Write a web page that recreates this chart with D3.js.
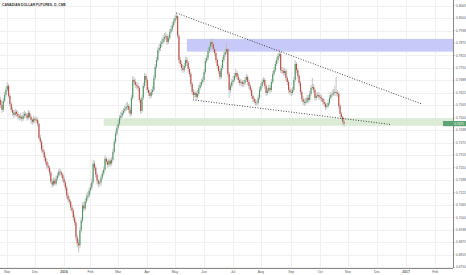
<!DOCTYPE html>
<html>
<head>
<meta charset="utf-8">
<script src="https://d3js.org/d3.v7.min.js"></script>
<style>
  html, body { margin: 0; padding: 0; background: #fff; }
  svg { display: block; font-family: "Liberation Sans", Arial, sans-serif; }
</style>
</head>
<body>
<svg id="chart"></svg>
<script>
// ---- data ----
const title = "CANADIAN DOLLAR FUTURES, D, CME";
const firstDate = "2015-10-26";
const holidays = ["2015-12-25", "2016-01-01", "2016-03-25"];
const firstOpen = 0.7590;

const closes = [
  0.7565,0.7540,0.7585,0.7615,0.7640,0.7660,0.7610,0.7570,0.7540,0.7525,
  0.7515,0.7530,0.7520,0.7510,0.7500,0.7505,0.7495,0.7510,0.7520,0.7515,
  0.7500,0.7525,0.7505,0.7490,0.7480,0.7495,0.7488,0.7490,0.7470,0.7400,
  0.7380,0.7340,0.7330,0.7300,0.7280,0.7260,0.7250,0.7225,0.7180,0.7165,
  0.7185,0.7170,0.7195,0.7210,0.7230,0.7225,0.7215,0.7195,0.7175,0.7150,
  0.7110,0.7090,0.7080,0.7050,0.7035,0.7000,0.6975,0.6900,0.6870,0.6860,
  0.6935,0.6985,0.7060,0.7045,0.7080,0.7100,0.7110,0.7135,0.7150,0.7175,
  0.7270,0.7250,0.7215,0.7185,0.7170,0.7175,0.7200,0.7220,0.7240,0.7295,
  0.7280,0.7265,0.7285,0.7270,0.7290,0.7330,0.7380,0.7420,0.7450,0.7470,
  0.7500,0.7510,0.7525,0.7535,0.7545,0.7555,0.7560,0.7540,0.7520,0.7600,
  0.7690,0.7680,0.7665,0.7660,0.7650,0.7590,0.7535,0.7600,0.7660,0.7710,
  0.7690,0.7640,0.7625,0.7610,0.7630,0.7640,0.7700,0.7755,0.7790,0.7840,
  0.7850,0.7870,0.7880,0.7895,0.7905,0.7910,0.7880,0.7900,0.7930,0.7945,
  0.7965,0.7985,0.8000,0.8010,0.7910,0.7790,0.7770,0.7750,0.7740,0.7760,
  0.7790,0.7775,0.7745,0.7720,0.7670,0.7630,0.7615,0.7625,0.7605,0.7620,
  0.7650,0.7665,0.7680,0.7690,0.7730,0.7785,0.7800,0.7835,0.7855,0.7880,
  0.7870,0.7845,0.7825,0.7790,0.7760,0.7735,0.7705,0.7750,0.7790,0.7815,
  0.7830,0.7845,0.7720,0.7640,0.7660,0.7680,0.7690,0.7710,0.7725,0.7705,
  0.7690,0.7675,0.7680,0.7670,0.7675,0.7690,0.7705,0.7680,0.7660,0.7640,
  0.7610,0.7595,0.7580,0.7575,0.7575,0.7600,0.7640,0.7660,0.7680,0.7690,
  0.7660,0.7625,0.7635,0.7650,0.7640,0.7680,0.7720,0.7740,0.7770,0.7790,
  0.7810,0.7820,0.7740,0.7735,0.7725,0.7735,0.7700,0.7680,0.7640,0.7630,
  0.7625,0.7640,0.7690,0.7770,0.7740,0.7710,0.7675,0.7630,0.7595,0.7580,
  0.7575,0.7580,0.7600,0.7590,0.7620,0.7650,0.7655,0.7640,0.7600,0.7610,
  0.7615,0.7605,0.7600,0.7595,0.7580,0.7570,0.7555,0.7560,0.7575,0.7600,
  0.7615,0.7620,0.7625,0.7630,0.7625,0.7620,0.7560,0.7520,0.7505,0.7480,
  0.7471
];
const highs = [
  0.7605,0.7580,0.7600,0.7630,0.7655,0.7680,0.7670,0.7620,0.7580,0.7555,
  0.7540,0.7545,0.7540,0.7535,0.7520,0.7525,0.7515,0.7530,0.7535,0.7530,
  0.7525,0.7540,0.7535,0.7515,0.7500,0.7510,0.7505,0.7505,0.7500,0.7475,
  0.7415,0.7390,0.7360,0.7340,0.7315,0.7295,0.7275,0.7260,0.7235,0.7195,
  0.7200,0.7200,0.7210,0.7225,0.7245,0.7245,0.7235,0.7225,0.7210,0.7185,
  0.7160,0.7125,0.7105,0.7090,0.7065,0.7045,0.7015,0.6985,0.6915,0.6890,
  0.6950,0.7000,0.7075,0.7080,0.7095,0.7120,0.7130,0.7150,0.7170,0.7195,
  0.7290,0.7285,0.7260,0.7225,0.7195,0.7190,0.7215,0.7235,0.7255,0.7310,
  0.7305,0.7290,0.7300,0.7295,0.7305,0.7345,0.7395,0.7435,0.7465,0.7490,
  0.7515,0.7530,0.7540,0.7550,0.7560,0.7575,0.7580,0.7570,0.7555,0.7615,
  0.7710,0.7705,0.7695,0.7680,0.7675,0.7660,0.7600,0.7615,0.7675,0.7725,
  0.7720,0.7700,0.7655,0.7640,0.7645,0.7660,0.7715,0.7770,0.7805,0.7855,
  0.7870,0.7885,0.7900,0.7915,0.7925,0.7930,0.7920,0.7915,0.7945,0.7960,
  0.7980,0.8000,0.8015,0.8028,0.8015,0.7920,0.7805,0.7785,0.7765,0.7775,
  0.7805,0.7805,0.7785,0.7755,0.7730,0.7680,0.7645,0.7640,0.7635,0.7640,
  0.7665,0.7680,0.7695,0.7705,0.7745,0.7800,0.7815,0.7850,0.7870,0.7895,
  0.7898,0.7880,0.7855,0.7835,0.7800,0.7770,0.7745,0.7765,0.7805,0.7830,
  0.7845,0.7878,0.7850,0.7730,0.7675,0.7695,0.7710,0.7725,0.7745,0.7735,
  0.7720,0.7700,0.7695,0.7690,0.7690,0.7705,0.7720,0.7715,0.7690,0.7670,
  0.7650,0.7620,0.7605,0.7595,0.7590,0.7615,0.7655,0.7675,0.7695,0.7705,
  0.7700,0.7670,0.7650,0.7665,0.7665,0.7695,0.7735,0.7755,0.7785,0.7805,
  0.7825,0.7845,0.7830,0.7755,0.7750,0.7750,0.7745,0.7710,0.7690,0.7655,
  0.7645,0.7655,0.7705,0.7790,0.7780,0.7750,0.7720,0.7685,0.7640,0.7610,
  0.7595,0.7600,0.7615,0.7615,0.7635,0.7665,0.7700,0.7670,0.7650,0.7625,
  0.7630,0.7630,0.7620,0.7615,0.7605,0.7595,0.7580,0.7575,0.7590,0.7615,
  0.7630,0.7640,0.7645,0.7660,0.7705,0.7640,0.7630,0.7570,0.7530,0.7510,
  0.7495
];
const lows = [
  0.7550,0.7525,0.7530,0.7575,0.7605,0.7630,0.7600,0.7555,0.7530,0.7510,
  0.7500,0.7505,0.7505,0.7495,0.7485,0.7490,0.7480,0.7485,0.7500,0.7500,
  0.7485,0.7490,0.7495,0.7470,0.7465,0.7470,0.7475,0.7475,0.7455,0.7390,
  0.7365,0.7325,0.7315,0.7285,0.7265,0.7245,0.7235,0.7210,0.7170,0.7150,
  0.7155,0.7160,0.7160,0.7185,0.7200,0.7210,0.7200,0.7180,0.7160,0.7135,
  0.7095,0.7075,0.7065,0.7035,0.7020,0.6985,0.6960,0.6885,0.6850,0.6825,
  0.6845,0.6925,0.6975,0.7030,0.7035,0.7070,0.7085,0.7100,0.7120,0.7140,
  0.7165,0.7235,0.7200,0.7165,0.7150,0.7155,0.7160,0.7190,0.7210,0.7230,
  0.7265,0.7250,0.7255,0.7255,0.7260,0.7280,0.7320,0.7370,0.7410,0.7440,
  0.7460,0.7490,0.7500,0.7515,0.7525,0.7535,0.7540,0.7525,0.7505,0.7510,
  0.7590,0.7665,0.7650,0.7645,0.7635,0.7575,0.7520,0.7525,0.7590,0.7650,
  0.7675,0.7625,0.7610,0.7595,0.7600,0.7615,0.7630,0.7690,0.7745,0.7780,
  0.7825,0.7835,0.7855,0.7870,0.7880,0.7890,0.7865,0.7870,0.7890,0.7920,
  0.7935,0.7955,0.7975,0.7990,0.7900,0.7775,0.7755,0.7735,0.7725,0.7730,
  0.7750,0.7760,0.7730,0.7705,0.7655,0.7615,0.7595,0.7600,0.7590,0.7595,
  0.7610,0.7640,0.7655,0.7670,0.7680,0.7720,0.7775,0.7790,0.7825,0.7845,
  0.7855,0.7830,0.7810,0.7775,0.7745,0.7720,0.7690,0.7695,0.7740,0.7780,
  0.7805,0.7820,0.7705,0.7600,0.7625,0.7650,0.7670,0.7680,0.7700,0.7690,
  0.7675,0.7660,0.7660,0.7655,0.7655,0.7665,0.7680,0.7665,0.7645,0.7625,
  0.7595,0.7580,0.7570,0.7560,0.7560,0.7565,0.7590,0.7630,0.7650,0.7670,
  0.7645,0.7610,0.7615,0.7625,0.7625,0.7630,0.7670,0.7710,0.7730,0.7760,
  0.7780,0.7800,0.7725,0.7720,0.7710,0.7715,0.7685,0.7665,0.7625,0.7615,
  0.7610,0.7615,0.7630,0.7680,0.7725,0.7695,0.7660,0.7615,0.7580,0.7565,
  0.7560,0.7565,0.7570,0.7575,0.7580,0.7610,0.7640,0.7625,0.7585,0.7590,
  0.7600,0.7590,0.7585,0.7580,0.7565,0.7555,0.7540,0.7545,0.7550,0.7565,
  0.7590,0.7605,0.7610,0.7610,0.7610,0.7605,0.7545,0.7505,0.7490,0.7465,
  0.7455
];

const monthLabels = ["Nov","Dec","2016","Feb","Mar","Apr","May","Jun","Jul","Aug","Sep","Oct","Nov","Dec","2017","Feb"];
const firstMonth = "2015-11-01";
const priceTicks = ["0.6750","0.6813","0.6875","0.6938","0.7000","0.7063","0.7125","0.7188","0.7250","0.7313","0.7375",
                    "0.7438","0.7500","0.7563","0.7625","0.7688","0.7750","0.7813","0.7875","0.7938","0.8000","0.8063"];
const lastPriceLabel = "0.7471";

// drawings: [barIndex, price]
const resistanceZone = { fromBar: 141, top: 0.7896, bottom: 0.7832 };
const supportZone = { fromBar: 78, top: 0.7498, bottom: 0.7460 };
const upperTrend = [[133, 0.8026], [319, 0.7569]];
const lowerTrend = [[145.6, 0.7590], [294.8, 0.7467]];

// ---- layout ----
const width = 466, height = 275;
const plotRight = 453, plotBottom = 268;

const svg = d3.select("#chart").attr("width", width).attr("height", height);

const parse = d3.timeParse("%Y-%m-%d");
const fmt = d3.timeFormat("%Y-%m-%d");
const days = d3.timeDay.range(parse(firstDate), parse("2017-04-01"))
  .filter(d => d.getDay() % 6 !== 0 && !holidays.includes(fmt(d)));

const bars = closes.map((c, i) => ({
  i,
  open: i ? closes[i - 1] : firstOpen,
  close: c,
  high: highs[i],
  low: lows[i]
}));

const x = d3.scaleLinear().domain([-0.5, 342.5]).range([0, plotRight]);
const y = d3.scaleLinear().domain([0.675, 0.80625]).range([267.3, 5.7]);

const months = d3.timeMonth.range(parse(firstMonth), parse("2017-02-02"));
const monthIdx = months.map(m => days.findIndex(d => d >= m));

// grid
const grid = svg.append("g");
grid.selectAll("line.h")
  .data(priceTicks)
  .enter().append("line")
  .attr("x1", 0).attr("x2", plotRight)
  .attr("y1", d => Math.round(y(+d)) + 0.5).attr("y2", d => Math.round(y(+d)) + 0.5)
  .attr("stroke", "#f0f0f0");
grid.selectAll("line.v")
  .data(monthIdx)
  .enter().append("line")
  .attr("x1", d => Math.round(x(d)) + 0.5).attr("x2", d => Math.round(x(d)) + 0.5)
  .attr("y1", 0).attr("y2", plotBottom)
  .attr("stroke", "#f0f0f0");

// zones
[[resistanceZone, "#c7c9f8"], [supportZone, "#dcebd5"]].forEach(([z, col]) => {
  svg.append("rect")
    .attr("x", x(z.fromBar))
    .attr("y", y(z.top))
    .attr("width", plotRight - x(z.fromBar))
    .attr("height", y(z.bottom) - y(z.top))
    .attr("fill", col);
});

// candles
const candles = svg.append("g");
candles.selectAll("line")
  .data(bars)
  .enter().append("line")
  .attr("x1", d => x(d.i)).attr("x2", d => x(d.i))
  .attr("y1", d => y(d.high)).attr("y2", d => y(d.low))
  .attr("stroke", "#bdbdbd")
  .attr("stroke-width", 0.9);
candles.selectAll("rect")
  .data(bars)
  .enter().append("rect")
  .attr("x", d => x(d.i) - 0.55)
  .attr("width", 1.1)
  .attr("y", d => y(Math.max(d.open, d.close)))
  .attr("height", d => Math.max(0.6, Math.abs(y(d.open) - y(d.close))))
  .attr("fill", d => d.close >= d.open ? "#4e9a66" : "#c1493d");

// trend lines
[upperTrend, lowerTrend].forEach(t => {
  svg.append("line")
    .attr("x1", x(t[0][0])).attr("y1", y(t[0][1]))
    .attr("x2", x(t[1][0])).attr("y2", y(t[1][1]))
    .attr("stroke", "#333")
    .attr("stroke-width", 0.9)
    .attr("stroke-dasharray", "1,1.6");
});

// axes
svg.append("line")
  .attr("x1", plotRight + 0.5).attr("x2", plotRight + 0.5)
  .attr("y1", 0).attr("y2", plotBottom)
  .attr("stroke", "#888");
svg.append("line")
  .attr("x1", 0).attr("x2", plotRight)
  .attr("y1", plotBottom + 0.5).attr("y2", plotBottom + 0.5)
  .attr("stroke", "#888");

const yAxis = svg.append("g").attr("font-size", 3.2).attr("fill", "#555");
yAxis.selectAll("line")
  .data(priceTicks)
  .enter().append("line")
  .attr("x1", plotRight).attr("x2", plotRight + 2)
  .attr("y1", d => y(+d)).attr("y2", d => y(+d))
  .attr("stroke", "#888").attr("stroke-width", 0.5);
yAxis.selectAll("text")
  .data(priceTicks)
  .enter().append("text")
  .attr("x", plotRight + 3)
  .attr("y", d => y(+d) + 1.1)
  .text(d => d);

const xAxis = svg.append("g").attr("font-size", 3.4).attr("fill", "#555").attr("text-anchor", "middle");
xAxis.selectAll("text")
  .data(monthLabels)
  .enter().append("text")
  .attr("x", (d, i) => x(monthIdx[i]))
  .attr("y", 273)
  .attr("font-weight", d => /^\d{4}$/.test(d) ? "bold" : null)
  .text(d => d);

// last price label
const lastY = y(closes[closes.length - 1]);
svg.append("rect")
  .attr("x", 443).attr("y", lastY - 2.6)
  .attr("width", width - 443).attr("height", 5.2)
  .attr("fill", "#5fa374");
svg.append("text")
  .attr("x", 459).attr("y", lastY + 1.1)
  .attr("font-size", 3.2).attr("fill", "#fff")
  .attr("text-anchor", "middle")
  .text(lastPriceLabel);

// title
svg.append("text")
  .attr("x", 2).attr("y", 5.5)
  .attr("font-size", 3.4).attr("font-weight", "bold").attr("fill", "#333")
  .text(title);
</script>
</body>
</html>
